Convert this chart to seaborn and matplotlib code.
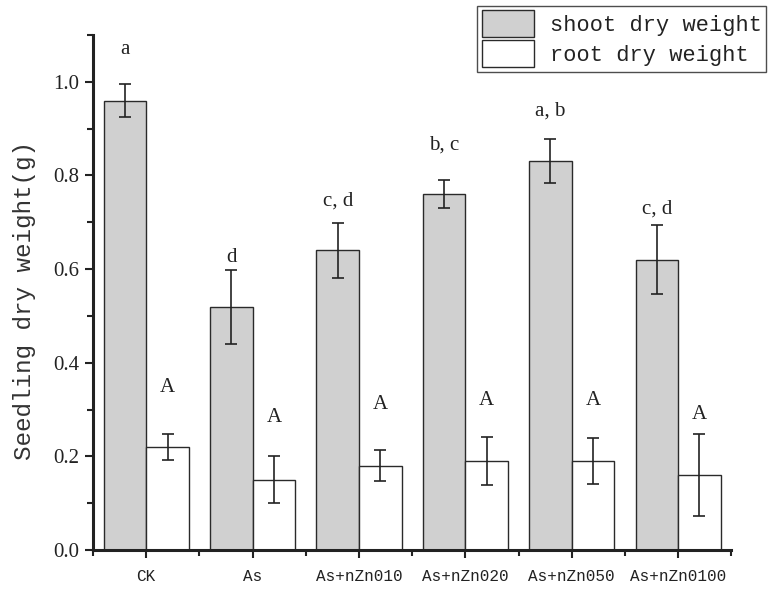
import numpy as np
import pandas as pd
import matplotlib
matplotlib.use('Agg')
import matplotlib.pyplot as plt
from matplotlib.ticker import MultipleLocator, FixedLocator, FormatStrFormatter
import seaborn as sns

# Data
treatments = ['CK', 'As', 'As+nZn010', 'As+nZn020', 'As+nZn050', 'As+nZn0100']
shoot_mean = [0.96, 0.52, 0.64, 0.76, 0.83, 0.62]
shoot_err = [0.035, 0.079, 0.058, 0.030, 0.047, 0.074]
root_mean = [0.22, 0.15, 0.18, 0.19, 0.19, 0.16]
root_err = [0.027, 0.050, 0.033, 0.052, 0.050, 0.088]
shoot_letters = ['a', 'd', 'c, d', 'b, c', 'a, b', 'c, d']
shoot_letter_y = [1.068, 0.624, 0.746, 0.865, 0.937, 0.729]
root_letters = ['A', 'A', 'A', 'A', 'A', 'A']
root_letter_y = [0.348, 0.282, 0.310, 0.320, 0.320, 0.290]

df = pd.DataFrame({
    'treatment': treatments * 2,
    'weight': shoot_mean + root_mean,
    'part': ['shoot dry weight'] * 6 + ['root dry weight'] * 6,
})

sns.set_style('ticks')
plt.rcParams['font.family'] = ['Liberation Mono', 'DejaVu Sans Mono']
plt.rcParams['text.color'] = '#222222'

fig = plt.figure(figsize=(7.69, 5.91), dpi=100)
ax = fig.add_axes([0.121, 0.0694, 0.830, 0.8714])

sns.barplot(data=df, x='treatment', y='weight', hue='part', ax=ax,
            palette=['#d0d0d0', 'white'], edgecolor='#2a2a2a', linewidth=1.0,
            errorbar=None, legend=False)

# error bars and significance letters on top of each bar
errs = [shoot_err, root_err]
letters = [shoot_letters, root_letters]
letter_y = [shoot_letter_y, root_letter_y]
for cont, err, labs, ly in zip(ax.containers, errs, letters, letter_y):
    xs = [b.get_x() + b.get_width() / 2 for b in cont]
    ys = [b.get_height() for b in cont]
    ax.errorbar(xs, ys, yerr=err, fmt='none', ecolor='#222222',
                elinewidth=1.2, capsize=4, capthick=1.2)
    for x, y, t in zip(xs, ly, labs):
        ax.text(x, y, t, ha='center', va='center', fontsize=15,
                family='Liberation Serif')

ax.set_ylim(0, 1.10)
ax.set_xlim(-0.5, 5.5)
ax.yaxis.set_major_locator(MultipleLocator(0.2))
ax.yaxis.set_minor_locator(MultipleLocator(0.1))
ax.xaxis.set_minor_locator(FixedLocator(np.arange(-0.5, 6.0, 1.0)))
ax.yaxis.set_major_formatter(FormatStrFormatter('%.1f'))
ax.tick_params(axis='both', which='major', direction='out', length=6, width=1.5,
               color='#222222', labelcolor='#222222')
ax.tick_params(axis='x', which='major', labelsize=11.5, pad=8)
ax.tick_params(axis='y', which='major', labelsize=15, pad=4)
ax.tick_params(axis='both', which='minor', direction='out', length=4, width=1.5,
               color='#222222')
for lab in ax.get_yticklabels():
    lab.set_family('Liberation Serif')
for s in ['left', 'bottom']:
    ax.spines[s].set_linewidth(2.2)
    ax.spines[s].set_color('#222222')
sns.despine(ax=ax)

ax.set_xlabel('')
ax.set_ylabel('Seedling dry weight(g)', fontsize=17.5, color='#333333')
ax.yaxis.set_label_coords(-0.09, 0.485)

handles = [plt.Rectangle((0, 0), 1, 1, facecolor='#d0d0d0', edgecolor='#2a2a2a'),
           plt.Rectangle((0, 0), 1, 1, facecolor='white', edgecolor='#2a2a2a')]
fig.legend(handles, ['shoot dry weight', 'root dry weight'], loc='upper right',
           bbox_to_anchor=(0.996, 0.99), fontsize=15.8, frameon=True, fancybox=False,
           edgecolor='#222222', handlelength=2.4, handleheight=1.5,
           handletextpad=0.7, borderpad=0.2, labelspacing=0.15, borderaxespad=0)

fig.savefig('out.png', dpi=100)
